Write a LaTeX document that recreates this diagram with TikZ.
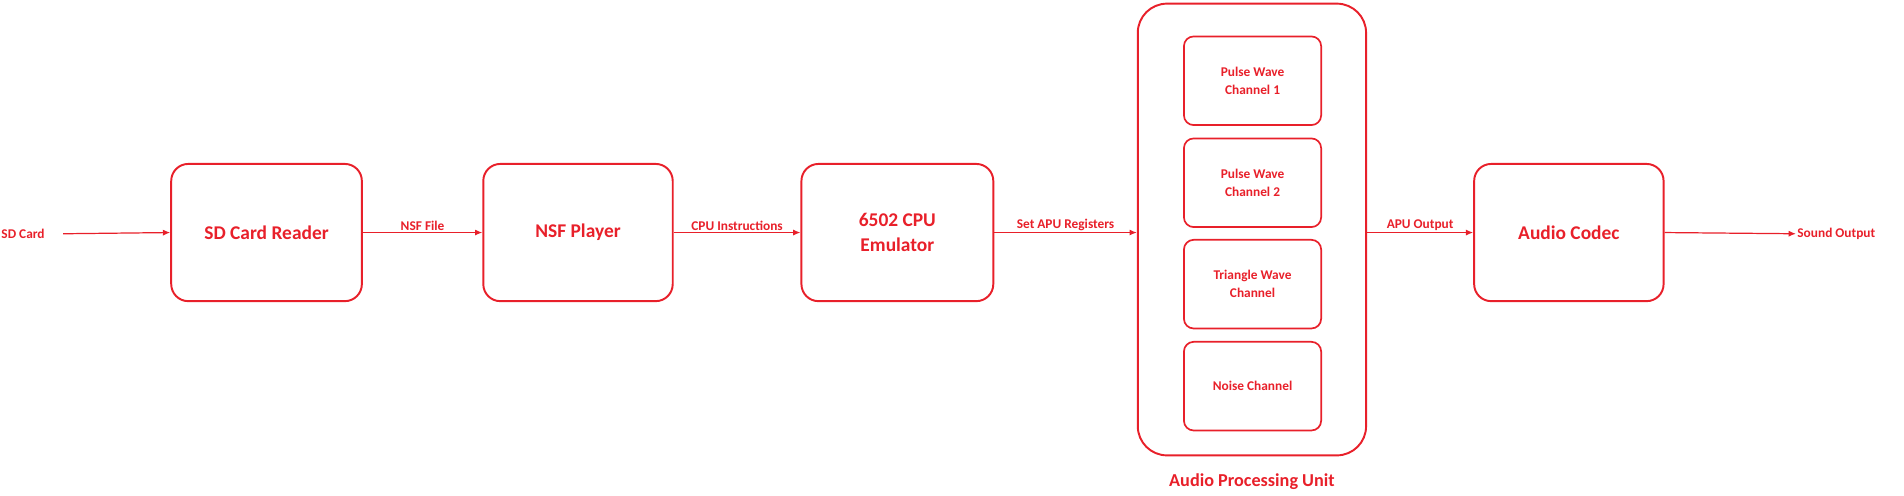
\documentclass[tikz,border=0pt]{standalone}
\usepackage{fontspec}
\setmainfont{Carlito}
\usetikzlibrary{arrows.meta}
\definecolor{rd}{HTML}{E8202A}
\begin{document}
\begin{tikzpicture}[x=1pt,y=-1pt,
  box/.style={draw=rd,line width=1.6pt,rounded corners=14pt,text=rd,font=\bfseries\fontsize{16}{20}\selectfont,align=center,inner sep=0},
  sbox/.style={draw=rd,line width=1.4pt,rounded corners=8pt,text=rd,font=\bfseries\fontsize{11}{15}\selectfont,align=center,inner sep=0,minimum width=113pt,minimum height=73pt},
  lbl/.style={text=rd,font=\bfseries\fontsize{11}{13}\selectfont,inner sep=1pt},
  arr/.style={draw=rd,line width=1pt,-{Latex[length=6pt,width=5pt]}}]
\useasboundingbox (0,0) rectangle (1568,408);
\node[box,minimum width=157pt,minimum height=113pt] (sdr) at (219.5,191.5) {SD Card Reader};
\node[box,minimum width=156pt,minimum height=113pt] (nsf) at (476,191.5) {NSF Player};
\node[box,minimum width=158pt,minimum height=113pt] (cpu) at (739,191.5) {6502 CPU\\Emulator};
\node[box,minimum width=188pt,minimum height=372pt,rounded corners=24pt] (apu) at (1031,189) {};
\node[lbl,font=\bfseries\fontsize{15}{18}\selectfont] (apul) at (1031,397) {Audio Processing Unit};
\node[sbox] (p1) at (1031.5,66.5) {Pulse Wave\\Channel 1};
\node[sbox] (p2) at (1031.5,150.5) {Pulse Wave\\Channel 2};
\node[sbox] (tri) at (1031.5,234) {Triangle Wave\\Channel};
\node[sbox] (noi) at (1031.5,318) {Noise Channel};
\node[box,minimum width=156pt,minimum height=113pt] (codec) at (1292,191.5) {Audio Codec};
\node[lbl,anchor=west] (sd) at (0,192.5) {SD Card};
\coordinate (sds) at (52,192.5);
\node[lbl,anchor=west] (so) at (1479,192.5) {Sound Output};
\draw[arr] (sds) -- (sdr.west);
\draw[arr] (sdr.east) -- node[lbl,above] {NSF File} (nsf.west);
\draw[arr] (nsf.east) -- node[lbl,above] {CPU Instructions} (cpu.west);
\draw[arr] (cpu.east) -- node[lbl,above] {Set APU Registers} (cpu.east -| apu.west);
\draw[arr] (cpu.east -| apu.east) -- node[lbl,above] {APU Output} (codec.west);
\draw[arr] (codec.east) -- (so.west);
\end{tikzpicture}
\end{document}
